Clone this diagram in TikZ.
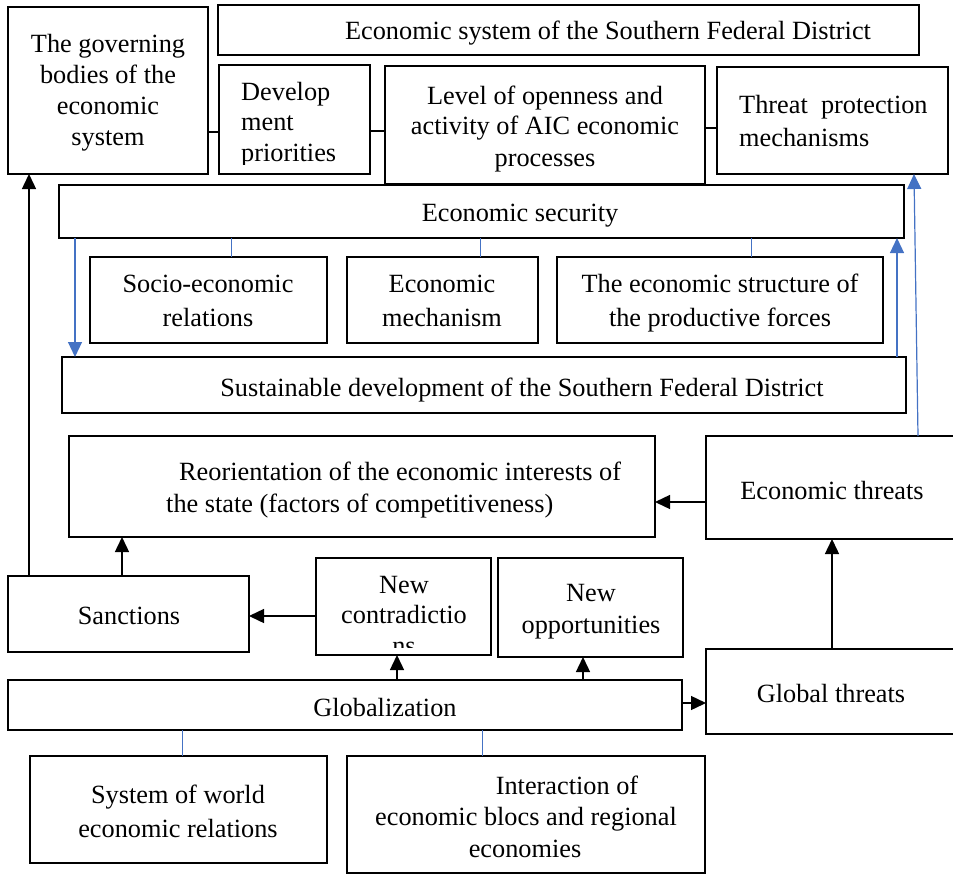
\documentclass[tikz,border=0pt]{standalone}
\usepackage{fontspec}
\setmainfont{Liberation Serif}
\usetikzlibrary{arrows.meta}
\definecolor{lnblue}{RGB}{68,114,196}
\newcommand{\boxnode}[5]{\node[box, minimum width={#4pt-#2pt}, minimum height={#5pt-#3pt}] (#1) at (#2,#3) {};}
\begin{document}
\begin{tikzpicture}[x=1pt,y=-1pt,
  box/.style={draw, line width=2pt, inner sep=0pt, outer sep=0pt, anchor=north west},
  txt/.style={inner sep=0pt, font=\fontsize{26.3}{31}\selectfont},
  conn/.style={draw, line width=1.4pt},
  arr/.style={draw, line width=1.4pt, -{Triangle[length=15pt,width=14pt]}},
  bconn/.style={draw=lnblue, line width=1pt},
  barr/.style={draw=lnblue, line width=1.2pt, -{Triangle[length=15pt,width=14pt]}}]
\useasboundingbox (0,0) rectangle (953,875);
\clip (0,0) rectangle (953,875);
% boxes
\boxnode{gov}{8}{7}{208}{174}
\boxnode{esys}{218}{5}{919}{55}
\boxnode{dev}{219}{65}{370}{174}
\boxnode{lev}{385}{66}{705}{184}
\boxnode{thr}{717}{67}{948}{174}
\boxnode{es}{59}{185}{904}{238}
\boxnode{soc}{90}{257}{327}{343}
\boxnode{mech}{347}{257}{538}{343}
\boxnode{str}{557}{257}{883}{343}
\boxnode{sd}{62}{357}{906}{413}
\boxnode{reor}{69}{436}{655}{537}
\boxnode{et}{706}{436}{958}{539}
\boxnode{sanc}{8}{576}{249}{652}
\boxnode{ncon}{316}{558}{491}{655}
\boxnode{nopp}{498}{558}{683}{657}
\boxnode{glob}{8}{680}{682}{730}
\boxnode{gt}{706}{649}{957}{734}
\boxnode{sys}{30}{756}{327}{863}
\boxnode{inter}{347}{756}{705}{873}
% texts
\node[txt, anchor=base] (t-esys) at (608,40) {Economic system of the Southern Federal District};
\node[txt, anchor=base] (t-gov1) at (108,53) {The governing};
\node[txt, anchor=base] (t-gov2) at (108,83) {bodies of the};
\node[txt, anchor=base] (t-gov3) at (108,114) {economic};
\node[txt, anchor=base] (t-gov4) at (108,145) {system};
\begin{scope}
\clip (219,65) rectangle (370,164);
\node[txt, anchor=base west] (t-dev1) at (241,100) {Develop};
\node[txt, anchor=base west] (t-dev2) at (241,130) {ment};
\node[txt, anchor=base west] (t-dev3) at (241,161) {priorities};
\end{scope}
\node[txt, anchor=base] (t-lev1) at (545,104) {Level of openness and};
\node[txt, anchor=base] (t-lev2) at (545,134) {activity of AIC economic};
\node[txt, anchor=base] (t-lev3) at (545,166) {processes};
\node[txt, anchor=base west] (t-thr1) at (739,113) {Threat\ \ protection};
\node[txt, anchor=base west] (t-thr2) at (739,146) {mechanisms};
\node[txt, anchor=base] (t-es) at (520,221) {Economic security};
\node[txt, anchor=base] (t-soc1) at (208,292) {Socio-economic};
\node[txt, anchor=base] (t-soc2) at (208,326) {relations};
\node[txt, anchor=base] (t-mech1) at (442,292) {Economic};
\node[txt, anchor=base] (t-mech2) at (442,326) {mechanism};
\node[txt, anchor=base] (t-str1) at (720,292) {The economic structure of};
\node[txt, anchor=base] (t-str2) at (720,326) {the productive forces};
\node[txt, anchor=base] (t-sd) at (522,396) {Sustainable development of the Southern Federal District};
\node[txt, anchor=base west] (t-reor1) at (179,480) {Reorientation of the economic interests of};
\node[txt, anchor=base west] (t-reor2) at (166,512) {the state (factors of competitiveness)};
\node[txt, anchor=base] (t-et) at (832,499) {Economic threats};
\node[txt, anchor=base] (t-sanc) at (129,624) {Sanctions};
\begin{scope}
\clip (316,558) rectangle (491,647);
\node[txt, anchor=base] (t-ncon1) at (404,593) {New};
\node[txt, anchor=base] (t-ncon2) at (404,623) {contradictio};
\node[txt, anchor=base] (t-ncon3) at (404,654) {ns};
\end{scope}
\node[txt, anchor=base] (t-nopp1) at (591,601) {New};
\node[txt, anchor=base] (t-nopp2) at (591,633) {opportunities};
\node[txt, anchor=base] (t-glob) at (385,716) {Globalization};
\node[txt, anchor=base] (t-gt) at (831,702) {Global threats};
\node[txt, anchor=base] (t-sys1) at (178,803) {System of world};
\node[txt, anchor=base] (t-sys2) at (178,837) {economic relations};
\node[txt, anchor=base] (t-int1) at (567,794) {Interaction of};
\node[txt, anchor=base] (t-int2) at (526,825) {economic blocs and regional};
\node[txt, anchor=base] (t-int3) at (525,857) {economies};
% reference coordinates for connector positions
\coordinate (y132) at (0,132);
\coordinate (y131) at (0,131);
\coordinate (y128) at (0,128);
\coordinate (y502) at (0,502);
\coordinate (y616) at (0,616);
\coordinate (y703) at (0,703);
\coordinate (x29) at (29,0);
\coordinate (x122) at (122,0);
\coordinate (x231) at (231,0);
\coordinate (x480) at (480,0);
\coordinate (x751) at (751,0);
\coordinate (x75) at (75,0);
\coordinate (x897) at (897,0);
\coordinate (x918) at (918,0);
\coordinate (x914) at (914,0);
\coordinate (x397) at (397,0);
\coordinate (x583) at (583,0);
\coordinate (x832) at (832,0);
\coordinate (x182) at (182,0);
\coordinate (x482) at (482,0);
% black connectors
\draw[conn] (gov.east |- y132) -- (dev.west |- y132);
\draw[conn] (dev.east |- y131) -- (lev.west |- y131);
\draw[conn] (lev.east |- y128) -- (thr.west |- y128);
\draw[arr] (sanc.north -| x29) -- (gov.south -| x29);
\draw[arr] (sanc.north -| x122) -- (reor.south -| x122);
\draw[arr] (et.west |- y502) -- (reor.east |- y502);
\draw[arr] (ncon.west |- y616) -- (sanc.east |- y616);
\draw[arr] (glob.north -| x397) -- (ncon.south -| x397);
\draw[arr] (glob.north -| x583) -- (nopp.south -| x583);
\draw[arr] (glob.east |- y703) -- (gt.west |- y703);
\draw[arr] (gt.north -| x832) -- (et.south -| x832);
% blue connectors
\draw[bconn] (es.south -| x231) -- (soc.north -| x231);
\draw[bconn] (es.south -| x480) -- (mech.north -| x480);
\draw[bconn] (es.south -| x751) -- (str.north -| x751);
\draw[barr] (es.south -| x75) -- (sd.north -| x75);
\draw[barr] (sd.north -| x897) -- (es.south -| x897);
\draw[barr] (et.north -| x918) -- (thr.south -| x914);
\draw[bconn] (glob.south -| x182) -- (sys.north -| x182);
\draw[bconn] (glob.south -| x482) -- (inter.north -| x482);
\end{tikzpicture}
\end{document}
